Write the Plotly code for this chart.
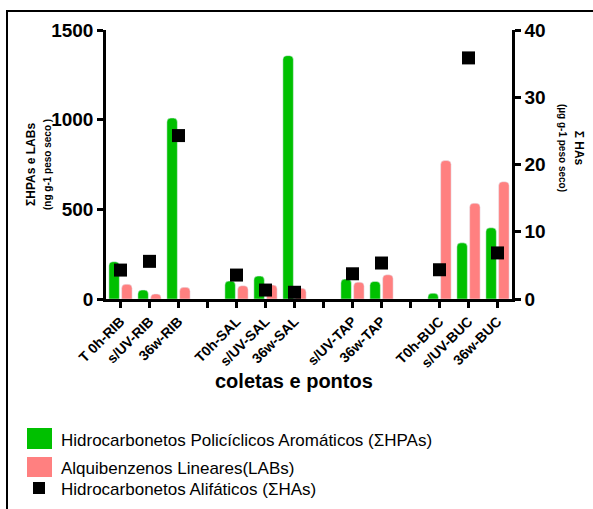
import plotly.graph_objects as go

categories = ["T 0h-RIB", "s/UV-RIB", "36w-RIB", " ",
              "T0h-SAL", "s/UV-SAL", "36w-SAL", "  ",
              "s/UV-TAP", "36w-TAP", "   ",
              "T0h-BUC", "s/UV-BUC", "36w-BUC"]
hpas = [208, 50, 1009, None, 100, 128, 1357, None, 111, 98, None, 32, 313, 397]
labs = [82, 28, 65, None, 74, 78, 60, None, 94, 135, None, 772, 534, 654]
has = [4.3, 5.6, 24.3, None, 3.56, 1.33, 1.0, None, 3.75, 5.35, None, 4.35, 35.85, 6.85]

left_ticks = [0, 500, 1000, 1500]
right_ticks = [0, 10, 20, 30, 40]

GREEN = "#00C000"
PINK = "#FF8080"
FONT = "Liberation Sans, Arial, sans-serif"

W, H = 593, 509
L, R, T, B = 106, 81, 30, 210
PW, PH = W - L - R, H - T - B


def px(x):
    return (x - L) / PW


def py(y):
    return (H - B - y) / PH


fig = go.Figure()
fig.add_trace(go.Bar(x=categories, y=hpas, marker_color=GREEN,
                     name="Hidrocarbonetos Policíclicos Aromáticos (ΣHPAs)"))
fig.add_trace(go.Bar(x=categories, y=labs, marker_color=PINK,
                     name="Alquibenzenos Lineares(LABs)"))
fig.add_trace(go.Scatter(x=categories, y=has, yaxis="y2", mode="markers",
                         marker=dict(symbol="square", size=13, color="black"),
                         cliponaxis=False,
                         name="Hidrocarbonetos Alifáticos (ΣHAs)"))

axis_common = dict(showline=True, linecolor="black", linewidth=2.5,
                   ticks="outside", ticklen=6, tickwidth=2.5, tickcolor="black",
                   showgrid=False, zeroline=False)

fig.update_layout(
    width=W, height=H,
    margin=dict(l=L, r=R, t=T, b=B),
    plot_bgcolor="white", paper_bgcolor="white",
    barmode="group", bargap=0.12, bargroupgap=0.18, barcornerradius=4,
    showlegend=False,
    font=dict(family=FONT, color="black"),
    xaxis=dict(**axis_common, type="category", categoryorder="array",
               categoryarray=categories, range=[-0.5, 13.5], tickangle=-45,
               tickfont=dict(size=14, family=FONT, weight="bold")),
    yaxis=dict(**axis_common, range=[0, 1500], tickvals=left_ticks,
               tickfont=dict(size=19, family=FONT, weight="bold")),
    yaxis2=dict(**axis_common, range=[0, 40], tickvals=right_ticks,
                overlaying="y", side="right",
                tickfont=dict(size=19, family=FONT, weight="bold")),
)

shapes = [
    # outer frame
    dict(type="rect", xref="paper", yref="paper", x0=px(7), x1=px(700),
         y0=py(700), y1=py(11), line=dict(color="black", width=2)),
    # legend swatches
    dict(type="rect", xref="paper", yref="paper", x0=px(27), x1=px(52),
         y0=py(449), y1=py(428), fillcolor=GREEN, line=dict(width=0)),
    dict(type="rect", xref="paper", yref="paper", x0=px(27), x1=px(52),
         y0=py(477), y1=py(457), fillcolor=PINK, line=dict(width=0)),
    dict(type="rect", xref="paper", yref="paper", x0=px(33), x1=px(45),
         y0=py(494), y1=py(482), fillcolor="black", line=dict(width=0)),
]
fig.update_layout(shapes=shapes)

legend_items = [
    ("Hidrocarbonetos Policíclicos Aromáticos (ΣHPAs)", 440),
    ("Alquibenzenos Lineares(LABs)", 468),
    ("Hidrocarbonetos Alifáticos (ΣHAs)", 489),
]
annotations = []
for txt, yy in legend_items:
    annotations.append(dict(text=txt, xref="paper", yref="paper", x=px(59), y=py(yy),
                            xanchor="left", yanchor="middle", showarrow=False,
                            font=dict(size=17, family=FONT, color="black")))

annotations += [
    dict(text="coletas e pontos", xref="paper", yref="paper", x=px(294), y=py(381),
         xanchor="center", yanchor="middle", showarrow=False,
         font=dict(size=20, family=FONT, color="black", weight="bold")),
    dict(text="ΣHPAs e LABs<br><span style='font-size:10px'>(ng g-1 peso seco )</span>",
         xref="paper", yref="paper", x=px(38), y=py(165), textangle=-90,
         xanchor="center", yanchor="middle", showarrow=False,
         font=dict(size=12, family=FONT, color="black", weight="bold")),
    dict(text="Σ HAs<br><span style='font-size:10px'>(µg g-1 peso seco)</span>",
         xref="paper", yref="paper", x=px(572), y=py(148), textangle=90,
         xanchor="center", yanchor="middle", showarrow=False,
         font=dict(size=12, family=FONT, color="black", weight="bold")),
]
fig.update_layout(annotations=annotations)

fig.write_html("out.html", config={"displayModeBar": False},
               post_script="document.body.style.margin='0';document.body.style.padding='0';")
